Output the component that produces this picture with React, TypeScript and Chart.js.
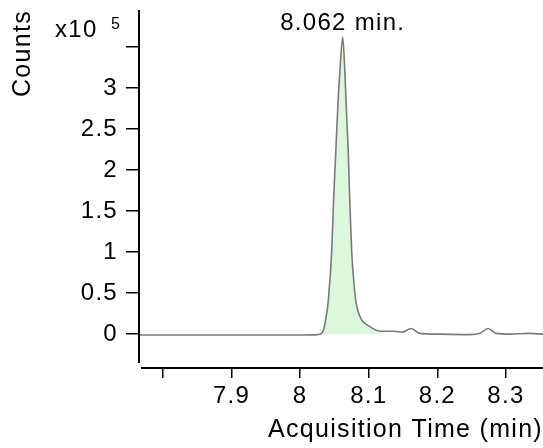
import { useEffect, useRef } from 'react';
import { Chart, registerables } from 'chart.js';
Chart.register(...registerables);

// Acquisition time (min)
const traceTimes = [7.765, 7.8, 7.9, 8.0, 8.026, 8.031, 8.034, 8.037, 8.041, 8.046, 8.049, 8.052, 8.055, 8.058, 8.062, 8.065, 8.068, 8.070, 8.072, 8.075, 8.078, 8.081, 8.085, 8.090, 8.100, 8.110, 8.119, 8.137, 8.149, 8.162, 8.174, 8.203, 8.247, 8.262, 8.274, 8.285, 8.306, 8.335, 8.354];
// Counts (x10^5)
const traceCounts = [-0.01, -0.01, -0.01, -0.01, -0.005, 0.01, 0.05, 0.17, 0.41, 1.02, 1.70, 2.24, 2.80, 3.22, 3.62, 3.22, 2.61, 2.24, 1.70, 1.02, 0.66, 0.41, 0.26, 0.17, 0.10, 0.05, 0.035, 0.035, 0.025, 0.07, 0.01, 0.0, -0.005, 0.01, 0.07, 0.01, 0.0, 0.01, 0.0];

const peakStart = 8.031;
const peakEnd = 8.122;
const peakApex = 8.062;
const peakLabel = '8.062 min.';

const xTickValues = [7.8, 7.9, 8.0, 8.1, 8.2, 8.3];
const xTickLabels = ['', '7.9', '8', '8.1', '8.2', '8.3'];
const yTickValues = [0, 0.5, 1, 1.5, 2, 2.5, 3, 3.5];
const yTickLabels = ['0', '0.5', '1', '1.5', '2', '2.5', '3', ''];

const FONT = "'Liberation Sans', Arial, sans-serif";

export default function App() {
  const ref = useRef<HTMLCanvasElement | null>(null);
  useEffect(() => {
    if (!ref.current) return;
    const trace = traceTimes.map((t, i) => ({ x: t, y: traceCounts[i] }));
    const peak = trace.filter((p) => p.x >= peakStart && p.x <= peakEnd);
    const apexIdx = traceTimes.indexOf(peakApex);

    const decor = {
      id: 'decor',
      beforeDraw(chart: any) {
        chart.ctx.letterSpacing = '1.3px';
      },
      afterDraw(chart: any) {
        const { ctx, chartArea } = chart;
        const xs = chart.scales.x;
        const ys = chart.scales.y;
        ctx.save();
        ctx.strokeStyle = '#000';
        ctx.lineWidth = 2;
        ctx.beginPath();
        ctx.moveTo(chartArea.left, chartArea.top);
        ctx.lineTo(chartArea.left, chartArea.bottom - 4);
        ctx.stroke();
        ctx.beginPath();
        ctx.moveTo(chartArea.left + 2, chartArea.bottom + 1);
        ctx.lineTo(chartArea.right, chartArea.bottom + 1);
        ctx.stroke();
        ctx.fillStyle = '#000';
        ctx.letterSpacing = '1.3px';
        ctx.font = `24px ${FONT}`;
        ctx.textAlign = 'center';
        ctx.textBaseline = 'alphabetic';
        const ax = xs.getPixelForValue(peakApex);
        const ay = ys.getPixelForValue(traceCounts[apexIdx]);
        ctx.fillText(peakLabel, ax, ay - 7);
        ctx.textAlign = 'left';
        ctx.fillText('x10', 55, 37);
        ctx.font = `16px ${FONT}`;
        ctx.fillText('5', 111, 29);
        ctx.restore();
      },
    };

    const chart = new Chart(ref.current, {
      type: 'line',
      data: {
        datasets: [
          {
            data: trace,
            borderColor: '#7a7a7a',
            borderWidth: 1.6,
            pointRadius: 0,
            fill: false,
            cubicInterpolationMode: 'monotone',
            order: 1,
          },
          {
            data: peak,
            borderColor: 'rgba(0,0,0,0)',
            borderWidth: 0,
            backgroundColor: '#ddf7dd',
            pointRadius: 0,
            fill: 'origin',
            cubicInterpolationMode: 'monotone',
            order: 2,
          },
        ],
      },
      options: {
        responsive: false,
        animation: false,
        devicePixelRatio: 1,
        layout: { padding: { top: 10, right: 0, left: 0, bottom: 0 } },
        plugins: { legend: { display: false }, tooltip: { enabled: false } },
        scales: {
          x: {
            type: 'linear',
            min: 7.765,
            max: 8.354,
            afterFit: (s: any) => { s.height = 81; s.paddingLeft = 0; s.paddingRight = 0; },
            afterBuildTicks: (s: any) => { s.ticks = xTickValues.map((v) => ({ value: v })); },
            border: { display: false },
            grid: { drawOnChartArea: false, drawTicks: true, tickLength: 11, color: '#000', lineWidth: 1.5 },
            ticks: {
              autoSkip: false,
              maxRotation: 0,
              padding: 4,
              color: '#000',
              font: { family: FONT, size: 24 },
              callback: (_v: any, i: number) => xTickLabels[i],
            },
            title: {
              display: true,
              text: 'Acquisition Time (min)',
              align: 'end',
              color: '#000',
              font: { family: FONT, size: 25 },
              padding: { top: 0, bottom: 3 },
            },
          },
          y: {
            type: 'linear',
            min: -0.4,
            max: 3.95,
            afterFit: (s: any) => { s.width = 139; s.paddingTop = 0; s.paddingBottom = 0; },
            afterBuildTicks: (s: any) => { s.ticks = yTickValues.map((v) => ({ value: v })); },
            border: { display: false },
            grid: { drawOnChartArea: false, drawTicks: true, tickLength: 13, color: '#000', lineWidth: 1.5 },
            ticks: {
              autoSkip: false,
              padding: 8,
              color: '#000',
              font: { family: FONT, size: 24 },
              callback: (_v: any, i: number) => yTickLabels[i],
            },
            title: {
              display: true,
              text: 'Counts',
              align: 'end',
              color: '#000',
              font: { family: FONT, size: 25 },
              padding: { top: 8, bottom: 0 },
            },
          },
        },
      },
      plugins: [decor],
    });
    return () => chart.destroy();
  }, []);
  return (
    <div style={{ position: 'absolute', left: 0, top: 0, width: 543, height: 448, background: '#fff' }}>
      <canvas ref={ref} width={543} height={448} />
    </div>
  );
}
